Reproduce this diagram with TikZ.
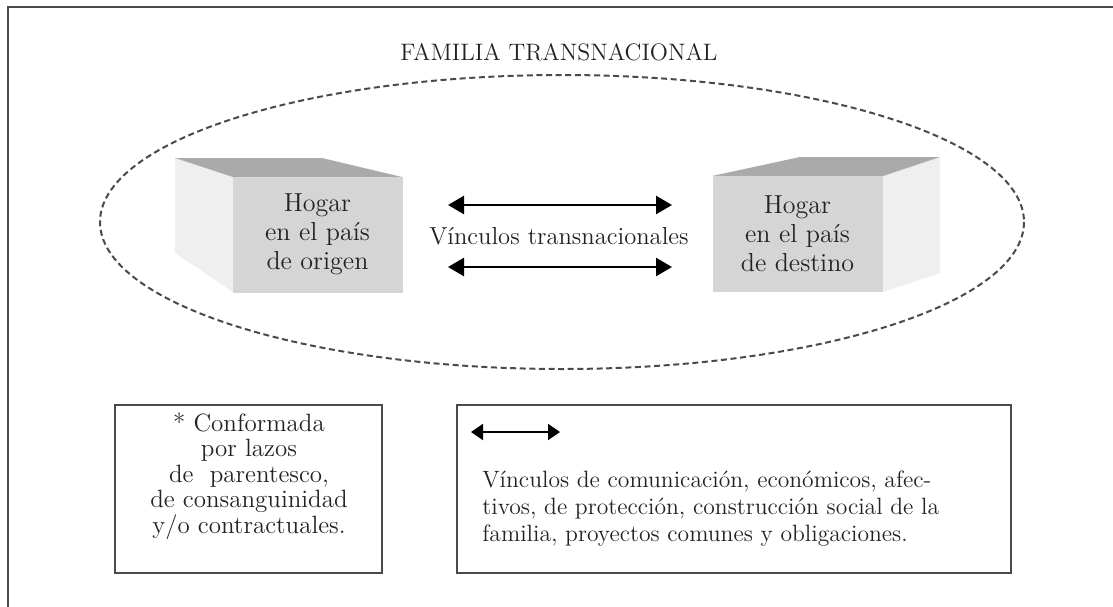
\documentclass[tikz,border=0pt]{standalone}
\usepackage{tikz}
\usetikzlibrary{arrows.meta,positioning}
\definecolor{frente}{HTML}{D5D5D5}
\definecolor{tapa}{HTML}{AAAAAA}
\definecolor{lado}{HTML}{EFEFEF}
\definecolor{linea}{HTML}{4A4A4A}
\definecolor{texto}{HTML}{222222}

\begin{document}
\begin{tikzpicture}[x=0.5pt,y=-0.5pt,
	texto/.style={text=texto, inner sep=0pt},
	hogar/.style={texto, fill=frente, align=center, minimum width=85pt, minimum height=58pt,
		font=\fontsize{13}{14.5}\selectfont},
	flecha/.style={line width=1.3pt, {Triangle[length=8pt,width=9pt]}-{Triangle[length=8pt,width=9pt]}},
	flechita/.style={line width=1pt, {Triangle[length=6pt,width=8pt]}-{Triangle[length=6pt,width=8pt]}},
	recuadro/.style={draw=linea, line width=0.8pt}]
		\clip (0,0) rectangle (1113,606);
		% marco exterior
		\draw[linea, line width=0.8pt] (8,7) rectangle (1140,640);
		\node[texto, font=\fontsize{11.9}{13}\selectfont] (titulo) at (559,52) {FAMILIA TRANSNACIONAL};
		\draw[linea, line width=1pt, dash pattern=on 3pt off 1.8pt] (562,222) ellipse (462 and 147);
		% hogar de origen
		\fill[lado] (175,158) -- (233,177) -- (233,292) -- (175,253) -- cycle;
		\fill[tapa] (175,158) -- (322,158) -- (402,177) -- (233,177) -- cycle;
		\node[hogar] (origen) at (317.5,234.5) {Hogar\\en el país\\de origen};
		% hogar de destino
		\fill[lado] (883,176) -- (940,157) -- (940,273) -- (883,292) -- cycle;
		\fill[tapa] (712,176) -- (800,157) -- (940,157) -- (883,176) -- cycle;
		\node[hogar] (destino) at (797.5,234) {Hogar\\en el país\\de destino};
		% vinculos
		\node[texto, font=\fontsize{12.3}{13}\selectfont] (vinculos) at (559,236) {Vínculos transnacionales};
		\coordinate (a1) at (448,205);
		\coordinate (b1) at (672,205);
		\coordinate (a2) at (448,267);
		\coordinate (b2) at (672,267);
		\draw[flecha] (a1) -- (b1);
		\draw[flecha] (a2) -- (b2);
		% recuadros inferiores
		\draw[recuadro] (115,405) rectangle (382,573);
		\node[texto, align=center, font=\fontsize{12.5}{12.8}\selectfont] (lazos) at (249,476)
			{* Conformada\\por lazos\\de \ parentesco,\\de consanguinidad\\y/o contractuales.};
		\draw[recuadro] (457,405) rectangle (1011,573);
		\coordinate (c1) at (471,432);
		\coordinate (c2) at (560,432);
		\draw[flechita] (c1) -- (c2);
		\node[texto, align=left, anchor=north west, font=\fontsize{11.8}{13.5}\selectfont] (leyenda) at (482,470)
			{Vínculos de comunicación, económicos, afec-\\tivos, de protección, construcción social de la\\familia, proyectos comunes y obligaciones.};
	\end{tikzpicture}
\end{document}
